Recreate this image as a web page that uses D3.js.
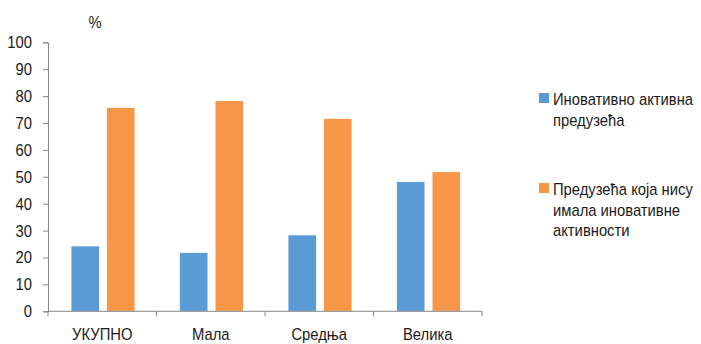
<!DOCTYPE html>
<html><head><meta charset="utf-8">
<script src="https://cdn.jsdelivr.net/npm/d3@7"></script>
<style>body{margin:0;background:#fff}svg{display:block}text{font-family:"Liberation Sans",Arial,sans-serif;fill:#1a1a1a}</style>
</head><body>
<script>
const categories = ["УКУПНО", "Мала", "Средња", "Велика"];
const seriesNames = ["Иновативно активна предузећа", "Предузећа која нису имала иновативне активности"];
const active = [24.3, 21.9, 28.4, 48.2];
const notActive = [75.8, 78.3, 71.7, 51.9];
const yTicks = [0,10,20,30,40,50,60,70,80,90,100];
const colors = ["#5B9BD5", "#F79646"];

(function(){
const W = 701, H = 344, FS = "17px", SX = 0.87;
const svg = d3.select("body").append("svg").attr("width", W).attr("height", H);
const mLeft = 48, mRight = 482, mTop = 42.3, mBottom = 311.3;

function txt(parent, x, y, t, anchor){
  return parent.append("text").attr("transform",`translate(${x},${y}) scale(${SX},1)`)
    .attr("text-anchor", anchor||"start").style("font-size",FS).text(t);
}

const x = d3.scaleBand().domain(categories).range([mLeft, mRight]).paddingInner(0).paddingOuter(0);
const y = d3.scaleLinear().domain([0, 100]).range([mBottom, mTop]);
const sub = d3.scaleBand().domain([0,1]).range([23, x.bandwidth()-21.5]).paddingInner(0.2);

const data = categories.map((c,i)=>({c, v:[active[i], notActive[i]]}));
const g = svg.append("g");
data.forEach(d=>{
  d.v.forEach((v,k)=>{
    g.append("rect")
      .attr("x", x(d.c)+sub(k)).attr("width", sub.bandwidth())
      .attr("y", y(v)).attr("height", y(0)-y(v))
      .attr("fill", colors[k]).attr("stroke","#fff").attr("stroke-width",0.8);
  });
});

const ya = svg.append("g").attr("transform",`translate(${mLeft},0)`)
  .call(d3.axisLeft(y).tickValues(yTicks).tickSize(5).tickPadding(11));
ya.select(".domain").attr("stroke","#868686");
ya.selectAll(".tick line").attr("stroke","#868686");
ya.selectAll("text").style("font-size",FS).attr("fill","#1a1a1a")
  .style("font-family","'Liberation Sans',Arial,sans-serif")
  .attr("x", -16/SX).attr("transform",`scale(${SX},1)`);

const xa = svg.append("g").attr("transform",`translate(0,${mBottom})`);
xa.append("line").attr("x1",mLeft).attr("x2",mRight).attr("stroke","#868686");
const bounds = categories.map(c=>x(c)).concat([mRight]);
xa.selectAll("line.t").data(bounds).enter().append("line").attr("class","t")
  .attr("x1",d=>d).attr("x2",d=>d).attr("y1",0).attr("y2",5).attr("stroke","#868686");
categories.forEach(c=>txt(xa, x(c)+x.bandwidth()/2, 29, c, "middle"));

txt(svg, 95, 28, "%", "middle");

const legLines = [["Иновативно активна","предузећа"],["Предузећа која нису","имала иновативне","активности"]];
const legY = [93, 183];
legLines.forEach((lines,k)=>{
  svg.append("rect").attr("x",539).attr("y",legY[k]).attr("width",10).attr("height",10).attr("fill",colors[k]);
  lines.forEach((t,j)=>txt(svg, 553, legY[k]+12+j*20.5, t));
});
})();
</script>
</body></html>
